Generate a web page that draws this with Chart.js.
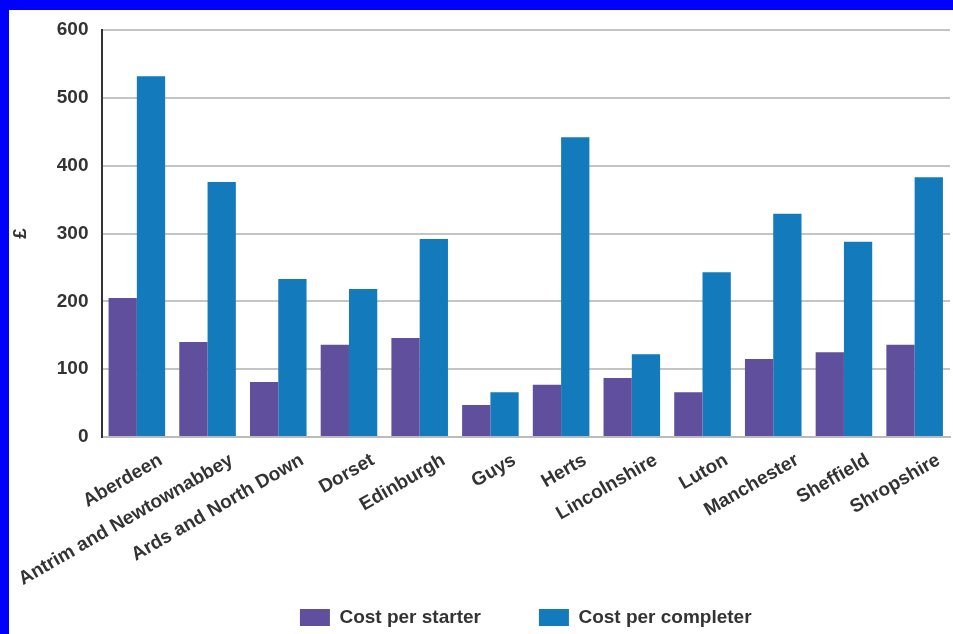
<!DOCTYPE html>
<html>
<head>
<meta charset="utf-8">
<script src="https://cdn.jsdelivr.net/npm/chart.js"></script>
<style>
  html, body { margin: 0; padding: 0; background: #fff; }
  body { width: 953px; height: 634px; box-sizing: border-box; border-top: 10px solid #0000ff; border-left: 9px solid #0000ff; overflow: hidden; }
  #wrap { position: relative; width: 944px; height: 624px; }
</style>
</head>
<body>
<div id="wrap"><canvas id="myChart"></canvas></div>
<script>
var places = ["Aberdeen", "Antrim and Newtownabbey", "Ards and North Down", "Dorset", "Edinburgh", "Guys", "Herts", "Lincolnshire", "Luton", "Manchester", "Sheffield", "Shropshire"];
var starterCost = [205, 140, 81, 136, 146, 47, 77, 87, 66, 115, 125, 136];
var completerCost = [532, 376, 233, 218, 292, 66, 442, 122, 243, 329, 288, 383];
var seriesNames = ["Cost per starter", "Cost per completer"];

var txt = "#333333";
var labelFont = { family: "Liberation Sans", size: 19, weight: "bold" };

// the x labels hang into the legend's empty top padding, so stop them being clipped
const unclipLabels = {
  id: "unclipLabels",
  afterLayout: function (chart) { chart.scales.x.bottom = chart.height; }
};

new Chart("myChart", {
  type: "bar",
  data: {
    labels: places,
    datasets: [{
      label: seriesNames[0],
      backgroundColor: "#5f4f9d",
      data: starterCost,
      categoryPercentage: 0.8,
      barPercentage: 1
    }, {
      label: seriesNames[1],
      backgroundColor: "#137bbb",
      data: completerCost,
      categoryPercentage: 0.8,
      barPercentage: 1
    }]
  },
  plugins: [unclipLabels],
  options: {
    responsive: true,
    maintainAspectRatio: false,
    animation: false,
    layout: { padding: { top: 20, right: 3, left: 0, bottom: -3 } },
    plugins: {
      legend: {
        position: "bottom",
        fullSize: false,
        labels: { boxWidth: 30, boxHeight: 17, padding: 58, color: txt, font: labelFont }
      },
      tooltip: { enabled: false }
    },
    scales: {
      x: {
        grid: { display: false, drawTicks: false },
        border: { color: "#bbbbbb", width: 2 },
        ticks: { color: txt, font: labelFont, minRotation: 30, maxRotation: 30, autoSkip: false, padding: 12, labelOffset: 24 },
        afterFit: function (scale) { scale.height = 113; }
      },
      y: {
        min: 0,
        max: 600,
        grid: { color: "#c4c4c4", lineWidth: 2, drawTicks: false },
        border: { color: "#333333", width: 2 },
        ticks: { stepSize: 100, color: txt, font: labelFont, padding: 13 },
        title: { display: true, text: "£", color: txt, font: labelFont, padding: { top: 0, bottom: 12 } },
        afterFit: function (scale) { scale.paddingTop = 0; }
      }
    }
  }
});
</script>
</body>
</html>
